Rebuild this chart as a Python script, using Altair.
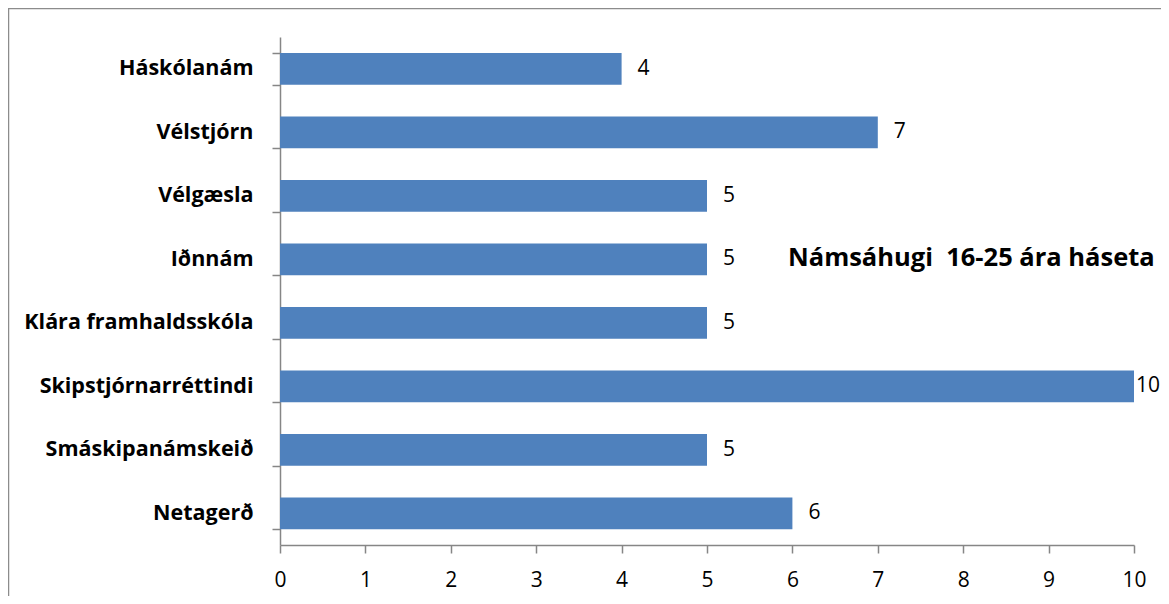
import altair as alt
import pandas as pd

categories = ["Háskólanám", "Vélstjórn", "Vélgæsla", "Iðnnám", "Klára framhaldsskóla",
              "Skipstjórnarréttindi", "Smáskipanámskeið", "Netagerð"]
values = [4, 7, 5, 5, 5, 10, 5, 6]
title_text = "Námsáhugi\u00a0\u00a016-25 ára háseta"
x_ticks = list(range(0, 11))

df = pd.DataFrame({"cat": categories, "val": values})

W, H = 854, 508
FONT = "Open Sans"
AXIS_COLOR = "#868686"

base = alt.Chart(df)

bars = base.mark_bar(color="#4F81BD").encode(
    x=alt.X("val:Q", scale=alt.Scale(domain=[0, 10], nice=False),
            axis=alt.Axis(values=x_ticks, title=None, grid=False, domainColor=AXIS_COLOR,
                          tickColor=AXIS_COLOR, tickSize=8, labelPadding=16, labelFont=FONT,
                          labelFontSize=21, labelColor="#000000", format="d",
                          labelFlush=False, domainWidth=1.5, tickWidth=1.5)),
    y=alt.Y("cat:N", sort=categories, scale=alt.Scale(paddingInner=0.5, paddingOuter=0.25),
            axis=alt.Axis(title=None, grid=False, tickBand="extent", domainColor=AXIS_COLOR,
                          tickColor=AXIS_COLOR, tickSize=8, labelPadding=19, labelFont=FONT,
                          labelFontSize=21.5, labelFontWeight="bold", labelColor="#000000",
                          labelLimit=400, domainWidth=1.5, tickWidth=1.5)),
)

text_enc = dict(x="val:Q", y=alt.Y("cat:N", sort=categories), text="val:Q")

text = base.transform_filter("datum.val < 10").mark_text(
    align="center", baseline="middle", dx=22, font=FONT, fontSize=21, color="#000000"
).encode(**text_enc)

# the widest label is nudged in slightly so that it stays inside the page edge
text_max = base.transform_filter("datum.val >= 10").mark_text(
    align="center", baseline="middle", dx=14, font=FONT, fontSize=21, color="#000000"
).encode(**text_enc)

title_df = pd.DataFrame({"t": [title_text]})
title = alt.Chart(title_df).mark_text(align="left", baseline="middle", font=FONT, fontSize=25.5,
                                      fontWeight="bold", color="#000000").encode(
    x=alt.value(508), y=alt.value(221), text="t:N")

border = alt.Chart(title_df).mark_rect(fill=None, stroke="#8C8C8C", strokeWidth=1.5).encode(
    x=alt.value(-271.5), x2=alt.value(W + 200), y=alt.value(-28.5), y2=alt.value(H + 200))

chart = alt.layer(border, bars, text, text_max, title).properties(
    width=W, height=H,
    background="white",
    autosize=alt.AutoSizeParams(type="none"),
    padding={"left": 272, "top": 29, "right": 27, "bottom": 51},
).configure_view(stroke=None)

chart.save("out.html", embed_options={"renderer": "svg", "actions": False})
